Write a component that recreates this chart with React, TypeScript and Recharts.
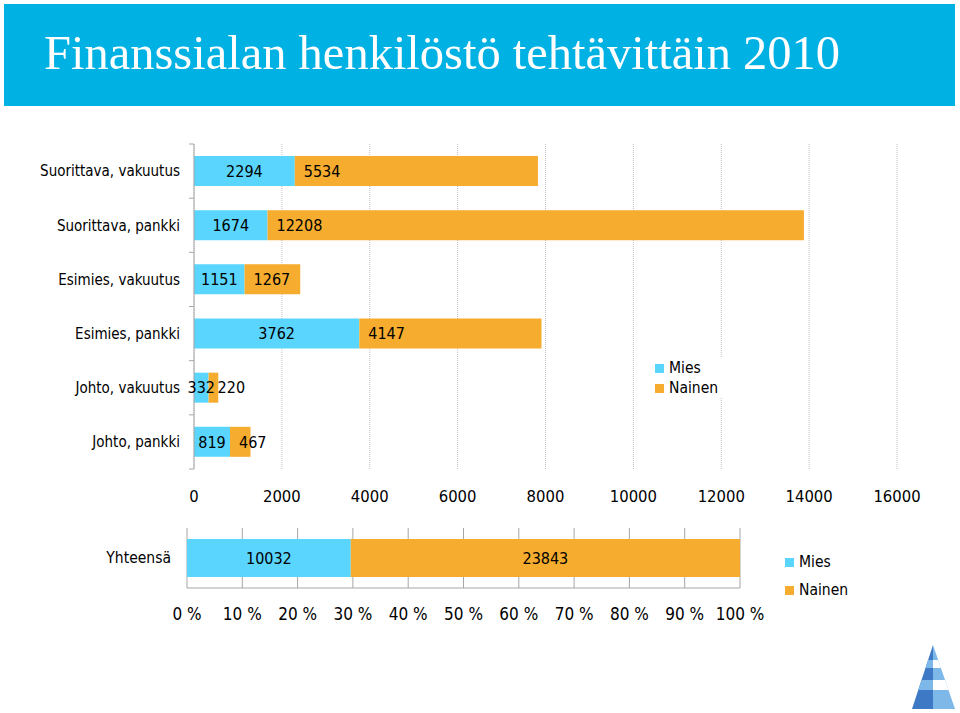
import { BarChart, Bar, XAxis, YAxis, CartesianGrid, LabelList, Legend } from "recharts";

const categories = [
  "Suorittava, vakuutus",
  "Suorittava, pankki",
  "Esimies, vakuutus",
  "Esimies, pankki",
  "Johto, vakuutus",
  "Johto, pankki",
];
const mies = [2294, 1674, 1151, 3762, 332, 819];
const nainen = [5534, 12208, 1267, 4147, 220, 467];
const countTicks = [0, 2000, 4000, 6000, 8000, 10000, 12000, 14000, 16000];

const totalCategory = ["Yhteensä"];
const totalMies = [10032];
const totalNainen = [23843];
const pctTicks = [0, 0.1, 0.2, 0.3, 0.4, 0.5, 0.6, 0.7, 0.8, 0.9, 1];

const BLUE = "#5AD5FE";
const ORANGE = "#F5AC2F";
const AXIS = "#A6A6A6";
const FONT = "'DejaVu Sans Condensed', 'DejaVu Sans', sans-serif";

const data = categories.map((name, i) => ({ name, mies: mies[i], nainen: nainen[i] }));
const totals = totalCategory.map((name, i) => ({ name, mies: totalMies[i], nainen: totalNainen[i] }));

const TOP_PLOT_H = 325;
const band = TOP_PLOT_H / categories.length;

function CategoryTick(props: any) {
  const { x, y, payload, index } = props;
  const last = index === categories.length - 1;
  return (
    <g>
      <text x={x - 14} y={y} dy="0.35em" textAnchor="end" fontSize={15} fontFamily={FONT} fill="#000">
        {payload.value}
      </text>
      <line x1={x - 5} x2={x} y1={y - band / 2} y2={y - band / 2} stroke={AXIS} />
      {last && <line x1={x - 5} x2={x} y1={y + band / 2} y2={y + band / 2} stroke={AXIS} />}
    </g>
  );
}

function TotalTick(props: any) {
  const { x, y, payload } = props;
  return (
    <text x={x - 16} y={y} dy="0.35em" textAnchor="end" fontSize={15.5} fontFamily={FONT} fill="#000">
      {payload.value}
    </text>
  );
}

const legendContent = (rowH: number) => (props: any) => (
  <div style={{ background: "#fff", fontFamily: FONT, fontSize: 15.5, color: "#000" }}>
    {props.payload.map((e: any) => (
      <div key={e.value} style={{ display: "flex", alignItems: "center", height: rowH }}>
        <span style={{ width: 9, height: 9, background: e.color, marginRight: 5, display: "inline-block" }} />
        <span>{e.value}</span>
      </div>
    ))}
  </div>
);

function Logo() {
  return (
    <svg width={60} height={75} style={{ position: "absolute", left: 900, top: 638 }}>
      <defs>
        <clipPath id="pyr">
          <polygon points="33,7 12,71 55,71" />
        </clipPath>
      </defs>
      <g clipPath="url(#pyr)">
        <rect x={0} y={0} width={33} height={75} fill="#3D79C4" />
        <rect x={33} y={0} width={30} height={75} fill="#7DB8E8" />
        <rect x={0} y={22} width={33} height={8} fill="#7DB8E8" />
        <rect x={0} y={42} width={33} height={10} fill="#7DB8E8" />
        <rect x={33} y={22} width={30} height={8} fill="#fff" />
        <rect x={33} y={42} width={30} height={10} fill="#fff" />
      </g>
    </svg>
  );
}

export default function App() {
  return (
    <div style={{ position: "absolute", left: 0, top: 0, width: 960, height: 713, background: "#fff", overflow: "hidden" }}>
      <div
        style={{
          position: "absolute",
          left: 4,
          top: 4,
          width: 951,
          height: 102,
          background: "#00B1E3",
        }}
      >
        <div
          style={{
            position: "absolute",
            left: 40,
            top: 22,
            color: "#fff",
            fontFamily: "'Liberation Serif', serif",
            fontSize: 48.5,
            lineHeight: "54px",
            whiteSpace: "nowrap",
          }}
        >
          Finanssialan henkilöstö tehtävittäin 2010
        </div>
      </div>

      <div style={{ position: "absolute", left: 0, top: 0 }}>
        <BarChart
          width={960}
          height={520}
          data={data}
          layout="vertical"
          margin={{ top: 144, right: 63, left: 0, bottom: 0 }}
          barSize={30}
        >
          <CartesianGrid horizontal={false} stroke="#BFBFBF" strokeDasharray="1 1" />
          <XAxis
            type="number"
            domain={[0, 16000]}
            ticks={countTicks}
            axisLine={false}
            tickLine={false}
            tickSize={0}
            tickMargin={21}
            height={51}
            interval={0}
            tick={{ fontSize: 16.5, fill: "#000", fontFamily: FONT }}
          />
          <YAxis
            type="category"
            dataKey="name"
            width={194}
            axisLine={{ stroke: AXIS }}
            tickLine={false}
            tickSize={0}
            tickMargin={0}
            interval={0}
            tick={<CategoryTick />}
          />
          <Legend
            layout="vertical"
            verticalAlign="middle"
            align="center"
            wrapperStyle={{ left: 655, top: 358, width: 72 }}
            content={legendContent(20)}
          />
          <Bar dataKey="mies" name="Mies" stackId="a" fill={BLUE} isAnimationActive={false}>
            <LabelList dataKey="mies" position="center" fontSize={16} fontFamily={FONT} fill="#000" />
          </Bar>
          <Bar dataKey="nainen" name="Nainen" stackId="a" fill={ORANGE} isAnimationActive={false}>
            <LabelList dataKey="nainen" position="insideLeft" offset={9} fontSize={16} fontFamily={FONT} fill="#000" />
          </Bar>
        </BarChart>
      </div>

      <div style={{ position: "absolute", left: 0, top: 500 }}>
        <BarChart
          width={960}
          height={140}
          data={totals}
          layout="vertical"
          stackOffset="expand"
          margin={{ top: 28, right: 220, left: 0, bottom: 0 }}
          barSize={38}
        >
          <CartesianGrid horizontal={false} stroke={AXIS} />
          <XAxis
            type="number"
            domain={[0, 1]}
            ticks={pctTicks}
            interval={0}
            axisLine={{ stroke: AXIS }}
            tickLine={false}
            tickSize={0}
            tickMargin={20}
            height={52}
            tickFormatter={(v: number) => `${Math.round(v * 100)} %`}
            tick={{ fontSize: 17, fill: "#000", fontFamily: FONT }}
          />
          <YAxis
            type="category"
            dataKey="name"
            width={187}
            axisLine={false}
            tickLine={false}
            tickSize={0}
            tickMargin={0}
            tick={<TotalTick />}
          />
          <Legend
            layout="vertical"
            verticalAlign="middle"
            align="center"
            wrapperStyle={{ left: 785, top: 48, width: 80 }}
            content={legendContent(28)}
          />
          <Bar dataKey="mies" name="Mies" stackId="t" fill={BLUE} isAnimationActive={false}>
            <LabelList dataKey="mies" position="center" fontSize={16} fontFamily={FONT} fill="#000" />
          </Bar>
          <Bar dataKey="nainen" name="Nainen" stackId="t" fill={ORANGE} isAnimationActive={false}>
            <LabelList dataKey="nainen" position="center" fontSize={16} fontFamily={FONT} fill="#000" />
          </Bar>
        </BarChart>
      </div>

      <Logo />
    </div>
  );
}
